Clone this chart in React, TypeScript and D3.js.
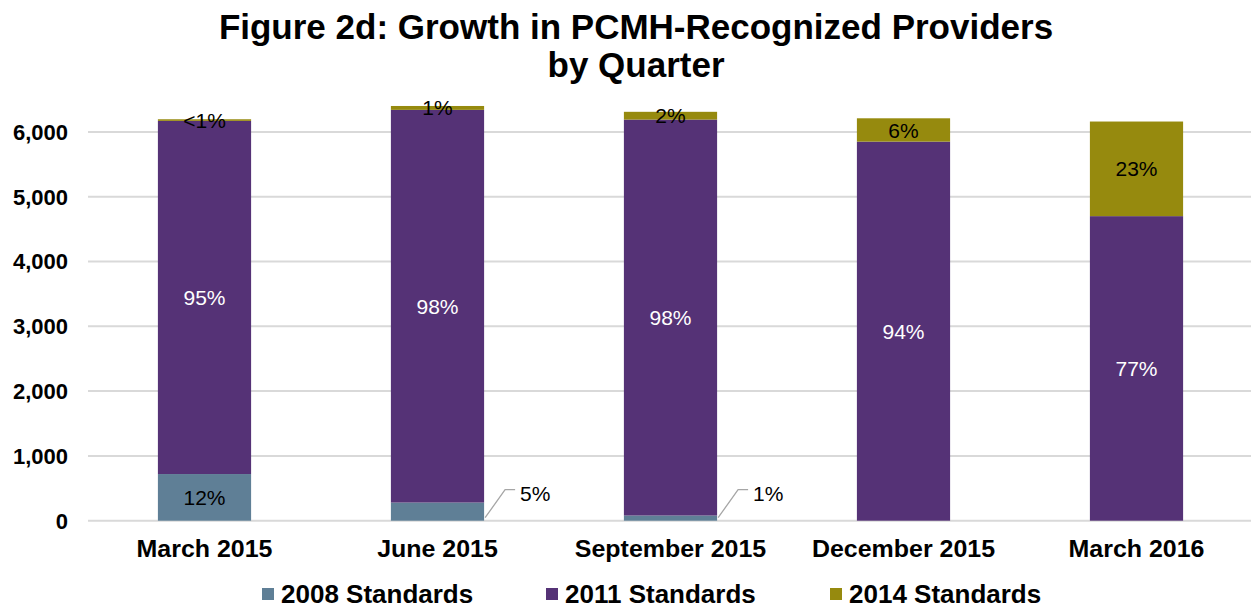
import * as d3 from "d3";

// Quartals-Daten
const quarters = ["March 2015", "June 2015", "September 2015", "December 2015", "March 2016"];
const std2008 = [720, 280, 80, 0, 0];
const std2011 = [5450, 6060, 6110, 5850, 4700];
const std2014 = [25, 60, 120, 360, 1460];
const label2008 = ["12%", "5%", "1%", "", ""];
const label2011 = ["95%", "98%", "98%", "94%", "77%"];
const label2014 = ["<1%", "1%", "2%", "6%", "23%"];
const outside2008 = [false, true, true, false, false];
const seriesNames = ["2008 Standards", "2011 Standards", "2014 Standards"];
const yTicks = [0, 1000, 2000, 3000, 4000, 5000, 6000];

const W = 1251;
const H = 608;
const colors = ["#5f7f96", "#553276", "#968a0e"];
const labelColors = ["#000", "#fff", "#000"];
const font = "'Liberation Sans', Arial, sans-serif";

export default function App() {
  const rows = quarters.map((q, i) => ({ q, s0: std2008[i], s1: std2011[i], s2: std2014[i] }));
  const stack = d3.stack<any>().keys(["s0", "s1", "s2"]);
  const layers = stack(rows);
  const labels = [label2008, label2011, label2014];

  const x = d3.scaleBand().domain(quarters).range([88, 1253]).paddingInner(0.6).paddingOuter(0.3);
  const y = d3.scaleLinear().domain([0, 6000]).range([520.7, 131.9]);
  const bw = x.bandwidth();

  return (
    <svg width={W} height={H} style={{ position: "absolute", left: 0, top: 0, background: "#fff" }} fontFamily={font}>
      <text x={636} y={39} textAnchor="middle" fontSize={35} fontWeight="bold">
        Figure 2d: Growth in PCMH-Recognized Providers
      </text>
      <text x={636} y={77} textAnchor="middle" fontSize={35} fontWeight="bold">
        by Quarter
      </text>

      {/* Gitterlinien + Y-Achse */}
      {yTicks.map((t) => (
        <g key={t}>
          <line x1={88} x2={1251} y1={y(t)} y2={y(t)} stroke="#d9d9d9" strokeWidth={2} />
          <text x={68} y={y(t)} dy="0.36em" textAnchor="end" fontSize={22} fontWeight="bold">
            {d3.format(",")(t)}
          </text>
        </g>
      ))}

      {/* Balken */}
      {layers.map((layer, li) => (
        <g key={li}>
          {layer.map((d, i) => {
            const x0 = x(quarters[i])!;
            const top = y(d[1]);
            const bot = y(d[0]);
            if (d[1] - d[0] <= 0) return null;
            return <rect key={i} x={x0} y={top} width={bw} height={bot - top} fill={colors[li]} />;
          })}
        </g>
      ))}

      {/* Beschriftungen */}
      {layers.map((layer, li) => (
        <g key={"l" + li}>
          {layer.map((d, i) => {
            const txt = labels[li][i];
            if (!txt) return null;
            const x0 = x(quarters[i])!;
            const mid = (y(d[0]) + y(d[1])) / 2;
            if (li === 0 && outside2008[i]) {
              const xr = x0 + bw;
              const base = y(0);
              return (
                <g key={i}>
                  <polyline
                    points={`${xr + 1},${base - 3} ${xr + 21},${base - 31} ${xr + 31},${base - 31}`}
                    fill="none"
                    stroke="#a6a6a6"
                    strokeWidth={1.3}
                  />
                  <text x={xr + 36} y={base - 27} dy="0.36em" fontSize={21}>
                    {txt}
                  </text>
                </g>
              );
            }
            return (
              <text key={i} x={x0 + bw / 2} y={mid} dy="0.36em" textAnchor="middle" fontSize={21} fill={labelColors[li]}>
                {txt}
              </text>
            );
          })}
        </g>
      ))}

      {/* X-Achse */}
      {quarters.map((q) => (
        <text
          key={q}
          transform={`translate(${x(q)! + bw / 2},557) scale(1.04,1)`}
          textAnchor="middle"
          fontSize={24}
          fontWeight="bold"
        >
          {q}
        </text>
      ))}

      {/* Legende */}
      {seriesNames.map((n, i) => (
        <g key={n} transform={`translate(${262 + i * 284},588)`}>
          <rect x={0} y={0} width={12} height={12} fill={colors[i]} />
          <text x={19} y={6} dy="0.36em" fontSize={26} fontWeight="bold">
            {n}
          </text>
        </g>
      ))}
    </svg>
  );
}
